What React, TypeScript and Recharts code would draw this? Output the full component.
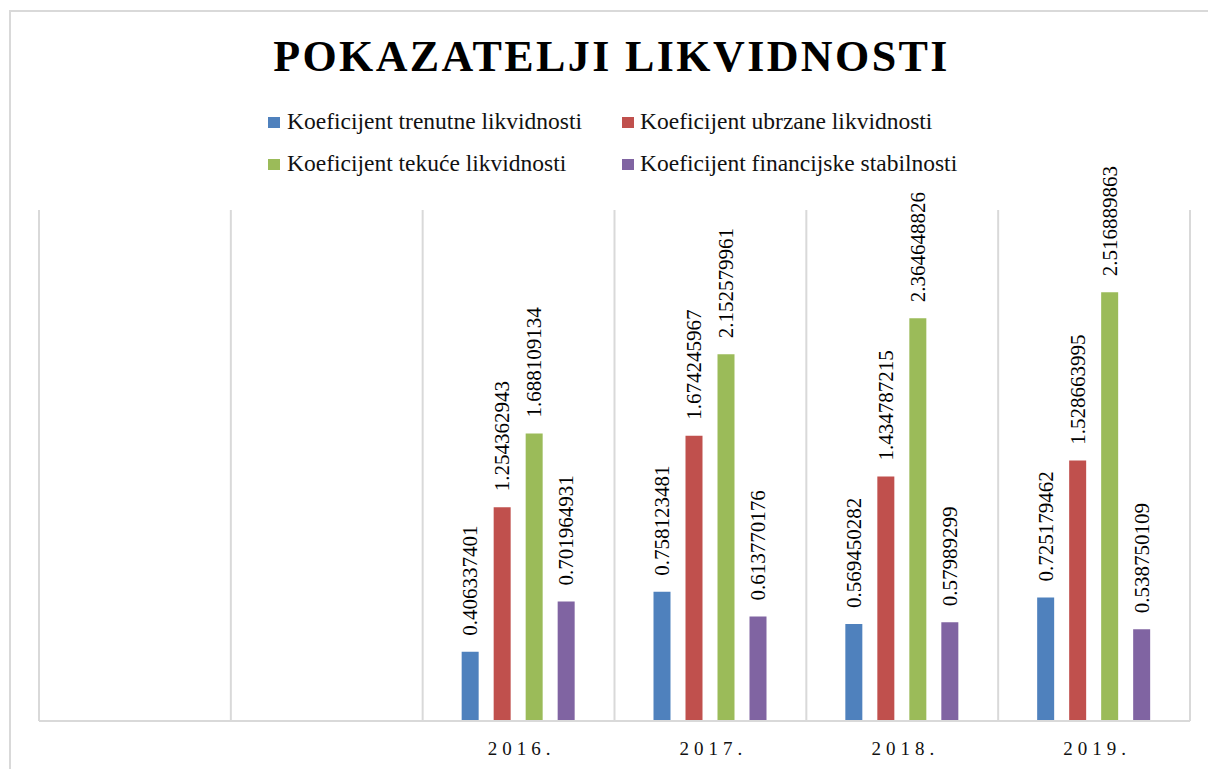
import React from "react";
import { Bar, BarChart, CartesianGrid, LabelList, XAxis, YAxis } from "recharts";

const categories = ["", " ", "2016.", "2017.", "2018.", "2019."];
const trenutne = [null, null, 0.406337401, 0.758123481, 0.569450282, 0.725179462];
const ubrzane = [null, null, 1.254362943, 1.674245967, 1.434787215, 1.528663995];
const tekuce = [null, null, 1.688109134, 2.152579961, 2.364648826, 2.516889863];
const stabilnost = [null, null, 0.701964931, 0.613770176, 0.57989299, 0.538750109];

const seriesNames = [
  "Koeficijent trenutne likvidnosti",
  "Koeficijent ubrzane likvidnosti",
  "Koeficijent tekuće likvidnosti",
  "Koeficijent financijske stabilnosti",
];
const seriesColors = ["#4f81bd", "#c0504d", "#9bbb59", "#8064a2"];
const seriesKeys = ["trenutne", "ubrzane", "tekuce", "stabilnost"];

const data = categories.map((name, i) => ({
  name,
  trenutne: trenutne[i],
  ubrzane: ubrzane[i],
  tekuce: tekuce[i],
  stabilnost: stabilnost[i],
}));

const serif = "Times New Roman, Liberation Serif, serif";

// legend grid: 2 columns x 2 rows (marker x, text x, row baseline-ish top)
const legendMarkerLeft = [268, 622];
const legendTextLeft = [287, 640];
const legendRowTop = [109, 151];

function ValueLabel(props: any) {
  const { x, y, width, value } = props;
  if (value == null) return null;
  const cx = x + width / 2;
  const cy = y - 16;
  return (
    <text
      x={cx}
      y={cy}
      transform={`rotate(-90 ${cx} ${cy})`}
      textAnchor="start"
      dominantBaseline="central"
      style={{ fontFamily: serif, fontSize: 21 }}
      fill="#000"
    >
      {String(value)}
    </text>
  );
}

function YearTick(props: any) {
  const { x, y, payload } = props;
  return (
    <text
      x={x + 3}
      y={y + 34}
      textAnchor="middle"
      fill="#111"
      style={{ fontFamily: serif, fontSize: 19, letterSpacing: 5 }}
    >
      {payload.value}
    </text>
  );
}

export default function App() {
  return (
    <div
      style={{
        position: "absolute",
        left: 0,
        top: 0,
        width: 1208,
        height: 769,
        overflow: "hidden",
        background: "#fff",
      }}
    >
      <div
        style={{
          position: "absolute",
          left: 9,
          top: 10,
          width: 1220,
          height: 780,
          border: "2px solid #d9d9d9",
        }}
      />
      <div
        style={{
          position: "absolute",
          left: 11,
          top: 35,
          width: 1201,
          textAlign: "center",
          fontFamily: serif,
          fontWeight: 700,
          fontSize: 44,
          lineHeight: "44px",
          letterSpacing: 2.4,
          color: "#000",
        }}
      >
        POKAZATELJI LIKVIDNOSTI
      </div>
      {seriesNames.map((name, i) => (
        <React.Fragment key={name}>
          <span
            style={{
              position: "absolute",
              left: legendMarkerLeft[i % 2],
              top: legendRowTop[Math.floor(i / 2)] + 8,
              width: 12,
              height: 11,
              background: seriesColors[i],
            }}
          />
          <div
            style={{
              position: "absolute",
              left: legendTextLeft[i % 2],
              top: legendRowTop[Math.floor(i / 2)],
              fontFamily: serif,
              fontSize: 23.5,
              lineHeight: "24px",
              color: "#111",
              whiteSpace: "nowrap",
            }}
          >
            {name}
          </div>
        </React.Fragment>
      ))}
      <div style={{ position: "absolute", left: 0, top: 0 }}>
        <BarChart
          width={1208}
          height={769}
          data={data}
          margin={{ top: 210, right: 18, left: 39, bottom: 0 }}
          barSize={17}
          barGap={15}
        >
          <CartesianGrid
            horizontal={false}
            stroke="#d9d9d9"
            strokeWidth={2}
            verticalCoordinatesGenerator={({ offset }: any) =>
              categories.map((_, i) => offset.left + (i * offset.width) / categories.length).concat(offset.left + offset.width)
            }
          />
          <XAxis
            dataKey="name"
            height={48}
            tickSize={0}
            tickMargin={0}
            axisLine={{ stroke: "#d9d9d9", strokeWidth: 2 }}
            tickLine={false}
            tick={<YearTick />}
            interval={0}
          />
          <YAxis hide domain={[0, 3]} />
          {seriesKeys.map((key, i) => (
            <Bar key={key} dataKey={key} fill={seriesColors[i]} isAnimationActive={false}>
              <LabelList dataKey={key} content={<ValueLabel />} />
            </Bar>
          ))}
        </BarChart>
      </div>
    </div>
  );
}
